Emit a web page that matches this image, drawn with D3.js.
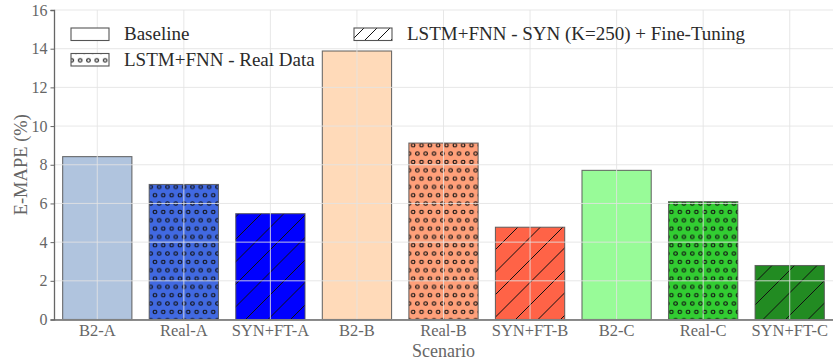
<!DOCTYPE html>
<html>
<head>
<meta charset="utf-8">
<script src="https://cdn.jsdelivr.net/npm/d3@7"></script>
<style>
  html, body { margin: 0; padding: 0; background: #fff; }
  svg { display: block; }
  text { font-family: "Liberation Serif", "DejaVu Serif", serif; }
</style>
</head>
<body>
<svg id="chart" width="833" height="364"></svg>
<script>
// Scenario labels and E-MAPE values (%)
const categories = ["B2-A", "Real-A", "SYN+FT-A", "B2-B", "Real-B", "SYN+FT-B", "B2-C", "Real-C", "SYN+FT-C"];
const emape = [8.42, 6.98, 5.47, 13.88, 9.12, 4.77, 7.71, 6.09, 2.79];
const model = ["base", "real", "syn", "base", "real", "syn", "base", "real", "syn"];
const fills = ["#b0c4de", "#4169e1", "#0000ff", "#ffdab9", "#ffa07a", "#ff6347", "#98fb98", "#32cd32", "#228b22"];
const yTicks = [0, 2, 4, 6, 8, 10, 12, 14, 16];
const legendItems = [
  { key: "base", label: "Baseline" },
  { key: "real", label: "LSTM+FNN - Real Data" },
  { key: "syn", label: "LSTM+FNN - SYN (K=250) + Fine-Tuning" }
];

const svg = d3.select("#chart");
const margin = { left: 54, right: 0, top: 10, bottom: 44.5 };
const W = 833, H = 364;
const innerW = W - margin.left - margin.right;
const innerH = H - margin.top - margin.bottom;
const serif = '"Liberation Serif", "DejaVu Serif", serif';

// circle hatch pattern
const defs = svg.append("defs");
const dots = defs.append("pattern").attr("id", "dots")
  .attr("patternUnits", "userSpaceOnUse").attr("width", 8.33).attr("height", 16.66)
  .attr("x", 1).attr("y", 2);
[[0, 0], [8.33, 0], [4.165, 8.33], [0, 16.66], [8.33, 16.66]].forEach(([cx, cy]) => {
  dots.append("circle").attr("cx", cx).attr("cy", cy).attr("r", 1.75)
    .attr("fill", "none").attr("stroke", "#111").attr("stroke-width", 1.15);
});

// diagonal "/" hatch drawn as clipped lines inside a rectangle
let clipId = 0;
function diagHatch(parent, rx, ry, rw, rh, step, phase) {
  const id = "clip" + (clipId++);
  defs.append("clipPath").attr("id", id).append("rect")
    .attr("x", rx).attr("y", ry).attr("width", rw).attr("height", rh);
  const hg = parent.append("g").attr("clip-path", `url(#${id})`)
    .attr("stroke", "#111").attr("stroke-width", 1).attr("fill", "none");
  // lines x + y = c, c stepping across the rectangle
  const c0 = Math.floor((rx + ry - phase) / step) * step + phase;
  for (let c = c0; c <= rx + rw + ry + rh + step; c += step) {
    hg.append("line").attr("x1", c - ry - rh - 2).attr("y1", ry + rh + 2)
      .attr("x2", c - ry + 2).attr("y2", ry - 2);
  }
}

const g = svg.append("g").attr("transform", `translate(${margin.left},${margin.top})`);

const x = d3.scaleBand().domain(categories).range([0, innerW]).paddingInner(0.2).paddingOuter(0.1);
const y = d3.scaleLinear().domain([0, 16]).range([innerH, 0]);

// bars: base fill, optional hatch overlay, then outline
const bars = g.append("g");
categories.forEach((c, i) => {
  const bx = x(c), by = y(emape[i]), bw = x.bandwidth(), bh = y(0) - y(emape[i]);
  bars.append("rect").attr("x", bx).attr("y", by).attr("width", bw).attr("height", bh)
    .attr("fill", fills[i]);
  if (model[i] === "real") {
    bars.append("rect").attr("x", bx).attr("y", by).attr("width", bw).attr("height", bh)
      .attr("fill", "url(#dots)");
  }
  if (model[i] === "syn") diagHatch(bars, bx, by, bw, bh, 22.5, 6);
  bars.append("rect").attr("x", bx).attr("y", by).attr("width", bw).attr("height", bh)
    .attr("fill", "none").attr("stroke", "#555").attr("stroke-opacity", 0.85).attr("stroke-width", 1.1);
});

// grid drawn over the bars
const grid = g.append("g").attr("stroke", "#e3e3e3").attr("stroke-opacity", 0.85).attr("stroke-width", 1);
yTicks.forEach(t => grid.append("line").attr("x1", 0).attr("x2", innerW).attr("y1", y(t)).attr("y2", y(t)));
categories.forEach(c => {
  const cx = x(c) + x.bandwidth() / 2;
  grid.append("line").attr("x1", cx).attr("x2", cx).attr("y1", 0).attr("y2", innerH);
});

// axes
const yAxis = g.append("g").call(d3.axisLeft(y).tickValues(yTicks).tickSize(3.5).tickPadding(3).tickFormat(d3.format("d")));
const xAxis = g.append("g").attr("transform", `translate(0,${innerH})`)
  .call(d3.axisBottom(x).tickSize(0).tickPadding(5));
[yAxis, xAxis].forEach(a => {
  a.attr("font-family", serif);
  a.select(".domain").attr("stroke", "#666").attr("stroke-width", 1.3);
  a.selectAll(".tick line").attr("stroke", "#666").attr("stroke-width", 1);
  a.selectAll(".tick text").attr("fill", "#666").style("font-size", "16.5px")
    .style("font-family", serif);
});
yAxis.selectAll(".tick text").style("font-size", "16px");
xAxis.selectAll(".tick line").remove();

// axis titles
svg.append("text").attr("x", margin.left + innerW / 2).attr("y", 357)
  .attr("text-anchor", "middle").attr("fill", "#666").style("font-size", "18px").text("Scenario");
svg.append("text").attr("transform", `translate(27,${margin.top + innerH / 2})rotate(-90)`)
  .attr("text-anchor", "middle").attr("fill", "#666").style("font-size", "18.5px").text("E-MAPE (%)");

// legend (two columns, no frame)
const legendPos = [
  { x: 71, y: 28 },
  { x: 71, y: 53.5 },
  { x: 354, y: 28 }
];
legendItems.forEach((it, i) => {
  const p = legendPos[i];
  svg.append("rect").attr("x", p.x).attr("y", p.y).attr("width", 38).attr("height", 12.5)
    .attr("fill", "#fff");
  if (it.key === "real") {
    svg.append("rect").attr("x", p.x).attr("y", p.y).attr("width", 38).attr("height", 12.5)
      .attr("fill", "url(#dots)");
  }
  if (it.key === "syn") diagHatch(svg, p.x, p.y, 38, 12.5, 13, 2);
  svg.append("rect").attr("x", p.x).attr("y", p.y).attr("width", 38).attr("height", 12.5)
    .attr("fill", "none").attr("stroke", "#555").attr("stroke-width", 1.1);
  svg.append("text").attr("x", p.x + 53).attr("y", p.y + 12).attr("fill", "#2a2a2a")
    .style("font-size", "19px").text(it.label);
});
</script>
</body>
</html>
